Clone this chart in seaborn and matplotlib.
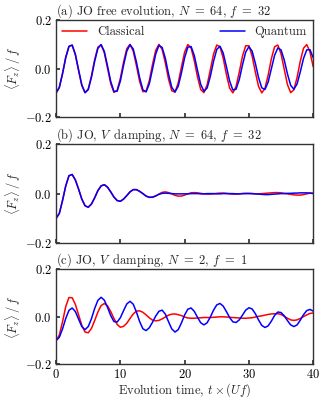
import numpy as np
import matplotlib
matplotlib.use("Agg")
import matplotlib.pyplot as plt
import seaborn as sns

t = np.linspace(0, 40, 81)

a_classical = [
    -0.100, -0.077, -0.020, 0.047, 0.092, 0.096, 0.056, -0.009, -0.070, -0.099,
    -0.084, -0.030, 0.037, 0.088, 0.098, 0.065, 0.002, -0.062, -0.098, -0.089,
    -0.040, 0.027, 0.082, 0.100, 0.072, 0.012, -0.053, -0.095, -0.093, -0.050,
    0.017, 0.075, 0.100, 0.079, 0.023, -0.044, -0.091, -0.097, -0.059, 0.006,
    0.068, 0.099, 0.085, 0.033, -0.034, -0.086, -0.099, -0.067, -0.005, 0.060,
    0.097, 0.090, 0.043, -0.024, -0.080, -0.100, -0.074, -0.015, 0.051, 0.094,
    0.094, 0.052, -0.014, -0.073, -0.100, -0.081, -0.026, 0.041, 0.090, 0.097,
    0.061, -0.003, -0.066, -0.099, -0.087, -0.036, 0.031, 0.084, 0.099, 0.069,
    0.008]
a_quantum = [
    -0.100, -0.078, -0.021, 0.045, 0.091, 0.097, 0.059, -0.005, -0.067, -0.099,
    -0.087, -0.036, 0.030, 0.083, 0.099, 0.071, 0.011, -0.053, -0.094, -0.093,
    -0.051, 0.014, 0.072, 0.098, 0.081, 0.027, -0.038, -0.087, -0.096, -0.063,
    -0.002, 0.060, 0.095, 0.087, 0.042, -0.023, -0.077, -0.096, -0.073, -0.018,
    0.045, 0.088, 0.091, 0.054, -0.007, -0.065, -0.093, -0.080, -0.032, 0.030,
    0.079, 0.092, 0.064, 0.008, -0.051, -0.088, -0.085, -0.045, 0.015, 0.068,
    0.090, 0.072, 0.022, -0.037, -0.079, -0.086, -0.055, 0.000, 0.055, 0.085,
    0.077, 0.035, -0.022, -0.069, -0.085, -0.063, -0.013, 0.042, 0.077, 0.078,
    0.045]

b_classical = [
    -0.100, -0.080, -0.028, 0.031, 0.072, 0.077, 0.055, 0.018, -0.022, -0.049,
    -0.055, -0.042, -0.017, 0.012, 0.031, 0.036, 0.026, 0.007, -0.014, -0.028,
    -0.031, -0.022, -0.008, 0.007, 0.016, 0.016, 0.009, 0.000, -0.010, -0.015,
    -0.015, -0.010, -0.002, 0.005, 0.007, 0.004, -0.001, -0.007, -0.010, -0.010,
    -0.006, -0.001, 0.003, 0.004, 0.003, 0.001, -0.001, -0.002, -0.002, -0.001,
    0.001, 0.002, 0.002, 0.001, -0.001, -0.002, -0.002, -0.001, 0.000, 0.001,
    0.001, 0.000, -0.001, -0.001, 0.000, 0.001, 0.002, 0.003, 0.004, 0.004,
    0.003, 0.001, -0.001, -0.003, -0.005, -0.006, -0.006, -0.004, -0.001, 0.002,
    0.002]
b_quantum = [
    -0.100, -0.080, -0.028, 0.031, 0.072, 0.077, 0.055, 0.018, -0.022, -0.049,
    -0.055, -0.042, -0.017, 0.012, 0.031, 0.036, 0.026, 0.007, -0.014, -0.028,
    -0.031, -0.022, -0.008, 0.007, 0.016, 0.016, 0.009, 0.000, -0.010, -0.015,
    -0.014, -0.009, -0.003, 0.001, 0.002, 0.001, 0.000, -0.001, -0.001, -0.001,
    -0.001, -0.001, 0.000, 0.000, 0.000, -0.001, -0.001, 0.000, 0.000, 0.000,
    -0.001, -0.001, 0.000, 0.000, 0.000, 0.000, -0.001, -0.001, 0.000, 0.000,
    0.000, 0.000, -0.001, -0.002, -0.003, -0.004, -0.004, -0.003, -0.002, -0.001,
    0.000, 0.000, 0.001, 0.001, 0.002, 0.002, 0.003, 0.003, 0.003, 0.002,
    0.000]

c_classical = [
    -0.100, -0.077, -0.021, 0.043, 0.081, 0.080, 0.052, 0.008, -0.036, -0.064,
    -0.067, -0.049, -0.016, 0.020, 0.047, 0.056, 0.046, 0.022, -0.007, -0.032,
    -0.044, -0.040, -0.027, -0.007, 0.012, 0.024, 0.025, 0.019, 0.008, -0.004,
    -0.014, -0.017, -0.015, -0.009, -0.001, 0.007, 0.011, 0.012, 0.009, 0.005,
    -0.001, -0.005, -0.006, -0.006, -0.005, -0.004, -0.003, -0.003, -0.003, -0.002,
    -0.001, 0.000, 0.000, -0.001, -0.002, -0.003, -0.004, -0.005, -0.006, -0.006,
    -0.005, -0.004, -0.001, 0.002, 0.004, 0.007, 0.010, 0.012, 0.013, 0.013,
    0.010, 0.002, -0.006, -0.013, -0.015, -0.013, -0.007, 0.001, 0.008, 0.014,
    0.016]
c_quantum = [
    -0.100, -0.086, -0.051, -0.007, 0.027, 0.037, 0.022, -0.010, -0.041, -0.054,
    -0.041, -0.008, 0.035, 0.069, 0.082, 0.070, 0.040, 0.005, -0.020, -0.022,
    -0.004, 0.026, 0.054, 0.065, 0.053, 0.020, -0.020, -0.050, -0.058, -0.046,
    -0.023, 0.003, 0.023, 0.028, 0.011, -0.021, -0.051, -0.064, -0.054, -0.026,
    0.008, 0.032, 0.037, 0.023, -0.002, -0.025, -0.034, -0.025, -0.001, 0.028,
    0.050, 0.056, 0.045, 0.022, -0.003, -0.021, -0.024, -0.013, 0.007, 0.028,
    0.038, 0.033, 0.013, -0.013, -0.036, -0.045, -0.038, -0.018, 0.006, 0.020,
    0.018, 0.004, -0.016, -0.034, -0.041, -0.034, -0.014, 0.009, 0.026, 0.031,
    0.024]

titles = [
    r"(a) JO free evolution, $N\ =\ 64$, $f\ =\ 32$",
    r"(b) JO, $V\,$ damping, $N\ =\ 64$, $f\ =\ 32$",
    r"(c) JO, $V\,$ damping, $N\ =\ 2$, $f\ =\ 1$",
]
panels = [(a_classical, a_quantum), (b_classical, b_quantum), (c_classical, c_quantum)]

FS = 9

# --- style ---
sns.set_theme(style="ticks")
plt.rcParams.update({
    "font.family": "serif",
    "font.serif": ["cmr10"],
    "mathtext.fontset": "cm",
    "axes.formatter.use_mathtext": True,
    "font.size": FS,
    "xtick.labelsize": FS,
    "ytick.labelsize": FS,
    "axes.labelsize": FS,
    "axes.titlesize": FS,
    "legend.fontsize": FS,
    "axes.edgecolor": "0.2",
    "axes.linewidth": 1.0,
    "xtick.direction": "in",
    "ytick.direction": "in",
    "xtick.major.size": 3,
    "ytick.major.size": 3,
    "xtick.major.pad": 2.5,
    "ytick.major.pad": 3,
    "xtick.color": "0.2",
    "ytick.color": "0.2",
    "xtick.labelcolor": "black",
    "ytick.labelcolor": "black",
})

fig = plt.figure(figsize=(3.3, 4.0), dpi=100)
boxes = [(0.170, 0.707, 0.779, 0.243),
         (0.170, 0.392, 0.779, 0.248),
         (0.170, 0.089, 0.779, 0.238)]

for i, (box, (cl, qu), title) in enumerate(zip(boxes, panels, titles)):
    ax = fig.add_axes(box)
    sns.lineplot(x=t, y=cl, ax=ax, color="red", lw=1.1, label="Classical", estimator=None)
    sns.lineplot(x=t, y=qu, ax=ax, color="blue", lw=1.1, label="Quantum", estimator=None)
    ax.set_xlim(0, 40)
    ax.set_ylim(-0.2, 0.2)
    ax.set_xticks([0, 10, 20, 30, 40])
    ax.set_yticks([-0.2, 0.0, 0.2])
    ax.yaxis.set_major_formatter(matplotlib.ticker.FormatStrFormatter(r"$%.1f$"))
    ax.set_ylabel(r"$\langle F_z \rangle\, /\, f$", labelpad=1)
    ax.set_title(title, loc="left", pad=2)
    if i < 2:
        ax.tick_params(labelbottom=False)
    else:
        ax.set_xlabel(r"Evolution time, $t \times (Uf)$", labelpad=0.5)
    if i == 0:
        ax.legend(loc="upper left", bbox_to_anchor=(0, 1, 1, 0), mode="expand",
                  ncol=2, frameon=False, borderaxespad=0.1, handlelength=2.0)
    else:
        ax.get_legend().remove()

fig.savefig("out.png", dpi=100)
